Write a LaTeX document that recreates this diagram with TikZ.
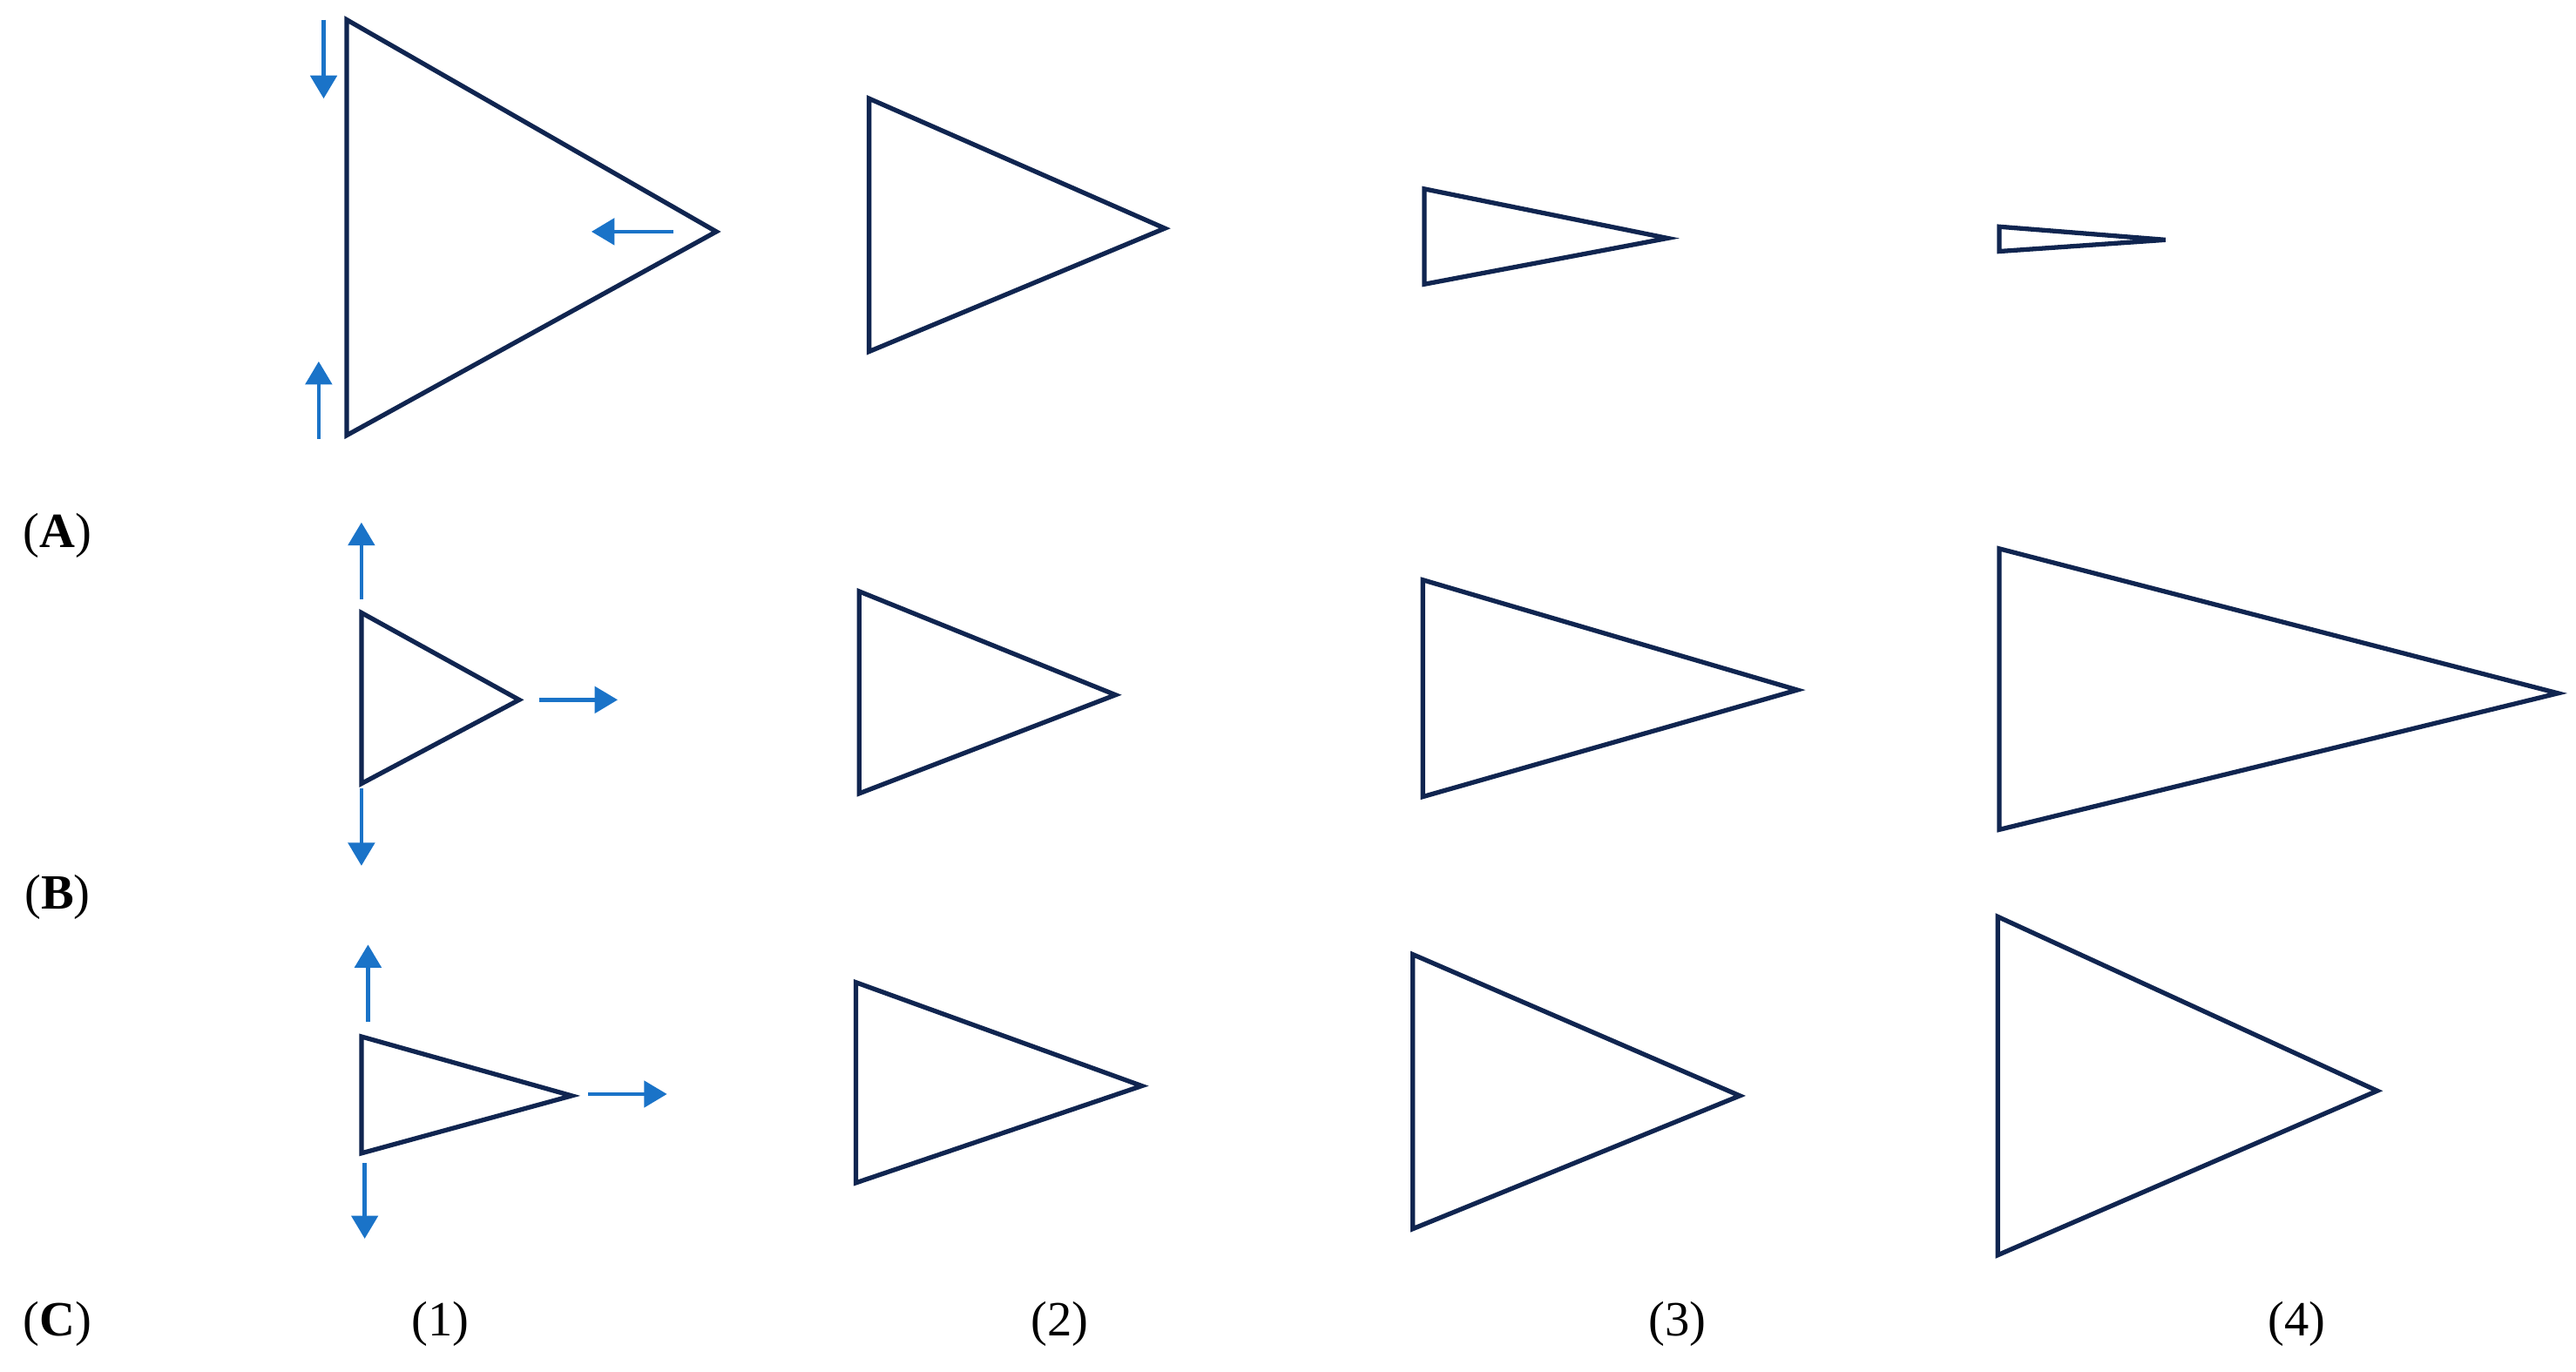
\documentclass[tikz,border=0pt]{standalone}
\usepackage{fontspec}
\setmainfont{Liberation Serif}
\usetikzlibrary{arrows.meta}
\definecolor{tri}{RGB}{16,37,80}
\definecolor{arr}{RGB}{26,115,200}
\begin{document}
\begin{tikzpicture}[x=1pt,y=-1pt,
  tribox/.style={draw=tri,line width=2.8pt,line join=miter},
  mv/.style={draw=arr,line width=2.4pt,-{Triangle[length=14pt,width=16pt]}},
  lab/.style={font=\fontsize{30}{36}\selectfont,inner sep=0pt}]
\useasboundingbox (0,0) rectangle (1568,835);
% Row A
\draw[tribox] (211,12) -- (211,265) -- (436,141) -- cycle;
\coordinate (a1) at (197,12); \coordinate (a2) at (197,60);
\coordinate (a3) at (194,267); \coordinate (a4) at (194,220);
\coordinate (a5) at (410,141); \coordinate (a6) at (360,141);
\draw[mv] (a1) -- (a2); \draw[mv] (a3) -- (a4); \draw[mv] (a5) -- (a6);
\draw[tribox] (529,60) -- (529,214) -- (709,139) -- cycle;
\draw[tribox] (867,115) -- (867,173) -- (1015,145) -- cycle;
\draw[tribox] (1217,138) -- (1217,153) -- (1318,146) -- cycle;
% Row B
\draw[tribox] (220,373) -- (220,477) -- (316,426) -- cycle;
\coordinate (b1) at (220,365); \coordinate (b2) at (220,318);
\coordinate (b3) at (328,426); \coordinate (b4) at (376,426);
\coordinate (b5) at (220,480); \coordinate (b6) at (220,527);
\draw[mv] (b1) -- (b2); \draw[mv] (b3) -- (b4); \draw[mv] (b5) -- (b6);
\draw[tribox] (523,360) -- (523,483) -- (679,423) -- cycle;
\draw[tribox] (866,353) -- (866,485) -- (1094,420) -- cycle;
\draw[tribox] (1217,334) -- (1217,505) -- (1557,422) -- cycle;
% Row C
\draw[tribox] (220,631) -- (220,702) -- (348,667) -- cycle;
\coordinate (c1) at (224,622); \coordinate (c2) at (224,575);
\coordinate (c3) at (358,666); \coordinate (c4) at (406,666);
\coordinate (c5) at (222,708); \coordinate (c6) at (222,754);
\draw[mv] (c1) -- (c2); \draw[mv] (c3) -- (c4); \draw[mv] (c5) -- (c6);
\draw[tribox] (521,598) -- (521,720) -- (695,661) -- cycle;
\draw[tribox] (860,581) -- (860,748) -- (1059,667) -- cycle;
\draw[tribox] (1216,558) -- (1216,764) -- (1447,664) -- cycle;
% labels
\node[lab] (lA) at (35,326) {(\textbf{A})};
\node[lab] (lB) at (35,546) {(\textbf{B})};
\node[lab] (lC) at (35,806) {(\textbf{C})};
\node[lab] (n1) at (268,806) {(1)};
\node[lab] (n2) at (645,806) {(2)};
\node[lab] (n3) at (1021,806) {(3)};
\node[lab] (n4) at (1398,806) {(4)};
\end{tikzpicture}
\end{document}
